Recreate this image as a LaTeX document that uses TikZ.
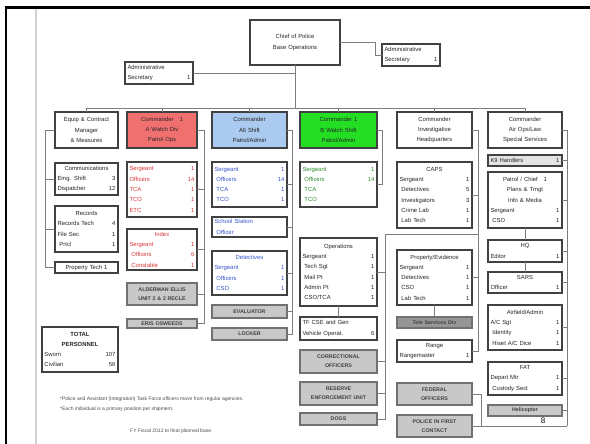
\documentclass[tikz,border=0pt]{standalone}
\usepackage{fontspec}
\setmainfont{Liberation Sans}
\definecolor{edge}{RGB}{65,65,65}
\definecolor{linkgray}{RGB}{125,125,125}
\definecolor{redfill}{RGB}{240,112,112}
\definecolor{bluefill}{RGB}{170,202,240}
\definecolor{greenfill}{RGB}{36,222,36}
\definecolor{redtext}{RGB}{215,55,55}
\definecolor{bluetext}{RGB}{55,85,205}
\definecolor{greentext}{RGB}{45,140,45}
\definecolor{boxgray}{RGB}{200,200,200}
\definecolor{darkfill}{RGB}{150,150,150}
\definecolor{lightfill}{RGB}{228,228,228}
\newcommand\boxfont{\fontsize{5.9}{10.3}\selectfont}
% one line of a staffing list: title on the left, head count on the right
\newcommand\rw[2]{\makebox[\hsize]{#1\hfill#2}}
% box from its top-left corner, width and height
\newcommand\bx[7]{\pgfmathsetmacro\tw{#4-5}%
  \node[#6, minimum width=#4pt, minimum height=#5pt, text width=\tw pt] (#1) at (#2,#3) {#7};}
\tikzset{
  box/.style={draw=edge, line width=1.2pt, fill=white, anchor=north west,
    inner sep=1.5pt, outer sep=0pt, font=\boxfont, align=center, text=black!85},
  graybox/.style={box, fill=boxgray, draw=edge!75, font=\fontsize{5.3}{9}\selectfont\bfseries, text=black!75},
  link/.style={draw=linkgray, line width=0.7pt},
  note/.style={anchor=west, font=\fontsize{5}{6}\selectfont, text=black!70, inner sep=0pt},
}
\begin{document}
\begin{tikzpicture}[x=1pt,y=-1pt]
\useasboundingbox (0,0) rectangle (590,444);
\fill[white] (0,0) rectangle (590,444);
% page frame
\draw[line width=2.5pt] (5,7.5) -- (590,7.5);
\draw[line width=2pt] (6,7.5) -- (6,444);
\draw[line width=2pt, black!18] (36,9) -- (36,444);

% command staff
\bx{chief}{250}{20}{90}{45}{box}{Chief of Police\\Base Operations}
\bx{admR}{382}{44}{58}{22}{box}{\rw{Administrative}{}\\\rw{Secretary}{1}}
\bx{admL}{125}{62}{68}{22}{box}{\rw{Administrative}{}\\\rw{Secretary}{1}}

% division heads
\bx{c1}{55}{112}{63}{36}{box}{Equip \& Contract\\Manager\\\& Measures}
\bx{c2}{127}{112}{70}{36}{box,fill=redfill}{Commander\quad 1\\A Watch Div\\Patrol Ops}
\bx{c3}{212}{112}{75}{36}{box,fill=bluefill}{Commander\\Alt Shift\\Patrol/Admin}
\bx{c4}{300}{112}{77}{36}{box,fill=greenfill}{Commander 1\\B Watch Shift\\Patrol/Admin}
\bx{c5}{397}{112}{75}{36}{box}{Commander\\Investigative\\Headquarters}
\bx{c6}{488}{112}{74}{36}{box}{Commander\\Air Ops/Law\\Special Services}

% support column
\bx{c1a}{55}{163}{63}{32}{box}{Communications\\\rw{Emg. Shift}{3}\\\rw{Dispatcher}{12}}
\bx{c1b}{55}{206}{63}{46}{box}{Records\\\rw{Records Tech}{4}\\\rw{File Sec}{1}\\\rw{\ Prtcl}{1}}
\bx{c1c}{55}{262}{63}{11}{box}{Property Tech 1}

% A watch
\bx{c2a}{127}{162}{70}{55}{box,text=redtext}{\rw{Sergeant}{1}\\\rw{Officers}{14}\\\rw{TCA}{1}\\\rw{TCO}{1}\\\rw{ETC}{1}}
\bx{c2b}{127}{229}{70}{41}{box,text=redtext}{Index\\\rw{Sergeant}{1}\\\rw{\ Officers}{6}\\\rw{\ Constable}{1}}
\bx{c2c}{127}{283}{70}{22}{graybox}{ALDERMAN ELLIS\\UNIT 2 \& 3 RECLE}
\bx{c2d}{127}{319}{70}{9}{graybox}{ERIS OSWEEDS}

% alternate shift
\bx{c3a}{212}{162}{75}{45}{box,text=bluetext}{\rw{Sergeant}{1}\\\rw{\ Officers}{14}\\\rw{\ TCA}{1}\\\rw{\ TCO}{1}}
\bx{c3b}{212}{217}{75}{20}{box,text=bluetext}{\rw{School Station}{}\\\rw{\ Officer}{}}
\bx{c3c}{212}{251}{75}{44}{box,text=bluetext}{Detectives\\\rw{Sergeant}{1}\\\rw{\ Officers}{1}\\\rw{\ CSO}{1}}
\bx{c3d}{212}{305}{75}{13}{graybox}{EVALUATOR}
\bx{c3e}{212}{328}{75}{12}{graybox}{LOCKER}

% B watch
\bx{c4a}{300}{162}{77}{45}{box,text=greentext}{\rw{Sergeant}{1}\\\rw{\ Officers}{14}\\\rw{\ TCA}{}\\\rw{\ TCO}{}}
\bx{c4b}{300}{238}{77}{68}{box}{Operations\\\rw{Sergeant}{1}\\\rw{\ Tech Sgt}{1}\\\rw{\ Mail Pt}{1}\\\rw{\ Admin Pt}{1}\\\rw{\ CSO/TCA}{1}}
\bx{c4c}{300}{317}{77}{23}{box}{\rw{TF CSE and Gen}{}\\\rw{Vehicle Operat.}{6}}
\bx{c4d}{300}{350}{77}{23}{graybox}{CORRECTIONAL\\OFFICERS}
\bx{c4e}{300}{382}{77}{23}{graybox}{RESERVE\\ENFORCEMENT UNIT}
\bx{c4f}{300}{413}{77}{12}{graybox}{DOGS}

% investigations
\bx{c5a}{397}{162}{75}{66}{box}{CAPS\\\rw{Sergeant}{1}\\\rw{\ Detectives}{5}\\\rw{\ Investigators}{3}\\\rw{\ Crime Lab}{1}\\\rw{\ Lab Tech}{1}}
\bx{c5b}{397}{250}{75}{55}{box}{Property/Evidence\\\rw{Sergeant}{1}\\\rw{\ Detectives}{1}\\\rw{\ CSO}{1}\\\rw{\ Lab Tech}{1}}
\bx{c5c}{397}{317}{75}{11}{graybox,fill=darkfill}{Tele Services Div}
\bx{c5d}{397}{340}{75}{22}{box}{Range\\\rw{Rangemaster}{1}}
\bx{c5e}{397}{383}{75}{22}{graybox}{FEDERAL\\OFFICERS}
\bx{c5f}{397}{415}{75}{22}{graybox}{POLICE IN FIRST\\CONTACT}

% special services
\bx{c6a}{488}{155}{74}{11}{box,fill=lightfill}{\rw{K9 Handlers}{1}}
\bx{c6b}{488}{172}{74}{56}{box}{Patrol / Chief\quad 1\\Plans \& Tmgt\\Info \& Media\\\rw{Sergeant}{1}\\\rw{\ CSO}{1}}
\bx{c6c}{488}{240}{74}{22}{box}{HQ\\\rw{Editor}{1}}
\bx{c6d}{488}{272}{74}{21}{box}{SARS\\\rw{Officer}{1}}
\bx{c6e}{488}{305}{74}{45}{box}{Airfield/Admin\\\rw{A/C Sgt}{1}\\\rw{\ Identity}{1}\\\rw{\ Hiset A/C Dice}{1}}
\bx{c6f}{488}{362}{74}{33}{box}{FAT\\\rw{Depart Mtr}{1}\\\rw{\ Custody Sect}{1}}
\bx{c6g}{488}{405}{74}{11}{graybox}{Helicopter}

% totals
\bx{tot}{42}{327}{76}{45}{box}{\textbf{TOTAL}\\\textbf{PERSONNEL}\\\rw{Sworn}{107}\\\rw{Civilian}{56}}

% command links
\coordinate (jR) at (375,0);
\draw[link] (chief.east) -- (chief.east -| jR) |- (admR.west);
\draw[link] (chief.south) -- (295,108) coordinate (hub);
\draw[link] (admL.east) -- (admL.east -| hub);
\draw[link] (c1.north |- hub) -- (c6.north |- hub);
\foreach \n in {c1,c2,c3,c4,c5,c6} \draw[link] (\n.north |- hub) -- (\n.north);

% column buses
\coordinate (b1) at (45,0);
\draw[link] (c1.west) -| (b1 |- c1c.west) -- (c1c.west);
\foreach \n in {c1a,c1b} \draw[link] (\n.west -| b1) -- (\n.west);

\coordinate (b2) at (204,0);
\draw[link] (c2.east) -| (b2 |- c2d.east) -- (c2d.east);
\foreach \n in {c2a,c2b,c2c} \draw[link] (\n.east -| b2) -- (\n.east);

\coordinate (b3) at (292,0);
\draw[link] (c3.east) -| (b3 |- c3e.east) -- (c3e.east);
\foreach \n in {c3a,c3b,c3c,c3d} \draw[link] (\n.east -| b3) -- (\n.east);

\coordinate (b4) at (382,0);
\draw[link] (c4.east) -| (b4 |- c4a.east) -- (c4a.east);

\coordinate (b5) at (478,0);
\draw[link] (c5.east) -| (b5 |- c5d.east) -- (c5d.east);
\foreach \n in {c5a,c5b} \draw[link] (\n.east -| b5) -- (\n.east);
\draw[link] (c5b.south) -- (c5c.north);

\coordinate (b4b) at (385,234);
\draw[link] (b4b -| b5) -- (b4b) |- (c4f.east);
\foreach \n in {c4b,c4d,c4e} \draw[link] (\n.east -| b4b) -- (\n.east);
\draw[link] (c4b.south) -- (c4c.north);

\coordinate (b6) at (567,0);
\draw[link] (c6.east) -| (b6 |- c5f.east);
\foreach \n in {c6a,c6b,c6c,c6d,c6e,c6f,c6g} \draw[link] (\n.east -| b6) -- (\n.east);
\draw[link] (c6b.south) -- (c6c.north);
\draw[link] (c6c.south) -- (c6d.north);
\coordinate (b5b) at (481,0);
\draw[link] (c5e.east) -| (b5b |- c5f.east);
\draw[link] (c5f.east) -- (c5f.east -| b6);

% notes
\node[note] (n1) at (60,399) {*Police and Assistant (Integration) Task Force officers move from regular agencies.};
\node[note] (n2) at (60,409) {*Each individual is a primary position per shipment.};
\node[note] (n3) at (130,431) {FY Fiscal 2012 to final planned base.};
\node[anchor=center, font=\fontsize{8}{9}\selectfont, inner sep=0pt] (pg) at (543,421) {8};
\end{tikzpicture}
\end{document}
